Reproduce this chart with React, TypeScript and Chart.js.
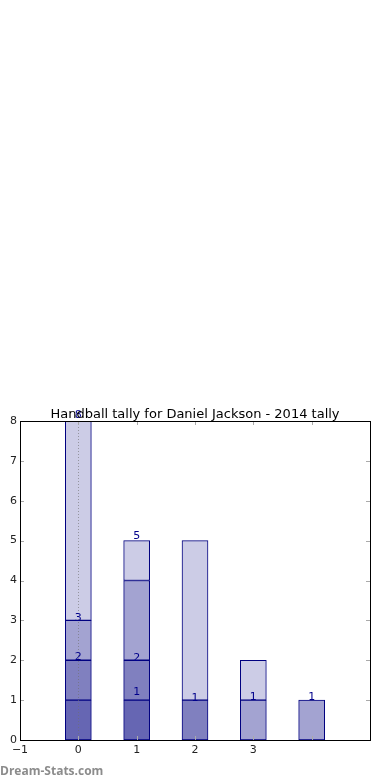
import React, { useEffect, useRef } from "react";
import { Chart, registerables } from "chart.js";

Chart.register(...registerables);

const categories = [0, 1, 2, 3, 4];
const seriesA = [1, 1, 0, 0, 0];
const seriesB = [1, 1, 1, 0, 0];
const seriesC = [1, 2, 0, 1, 1];
const seriesD = [5, 1, 4, 1, 0];
const seriesColors = ["#6666b3", "#8080bf", "#a3a3d1", "#ccccE6"];

const xTickLabels = ["\u22121", "0", "1", "2", "3"];
const xTickValues = [-1, 0, 1, 2, 3];

const labelX = [0, 0, 0, 1, 1, 1, 2, 3, 4];
const labelY = [8.08, 2.98, 2.0, 5.05, 1.98, 1.12, 0.98, 1.0, 1.0];
const labelText = ["8", "3", "2", "5", "2", "1", "1", "1", "1"];

const TITLE = "Handball tally for Daniel Jackson - 2014 tally";
const WATERMARK = "Dream-Stats.com";
const FONT = "'DejaVu Sans', sans-serif";

export default function App() {
  const ref = useRef<HTMLCanvasElement>(null);
  useEffect(() => {
    document.body.style.margin = "0";
    const canvas = ref.current!;
    const all = [seriesA, seriesB, seriesC, seriesD];
    const datasets = all.map((s, i) => ({
      label: "s" + i,
      data: categories.map((c, j) => ({ x: c, y: s[j] === 0 ? null : s[j] })),
      backgroundColor: seriesColors[i],
      borderColor: "#000080",
      borderWidth: 1,
      borderSkipped: false as const,
      barThickness: 26,
    }));

    const overlay = {
      id: "overlay",
      afterDatasetsDraw(chart: any) {
        const ctx = chart.ctx;
        const a = chart.chartArea;
        const xs = chart.scales.x;
        const ys = chart.scales.y;
        ctx.save();
        // dotted line at x=0
        const x0 = Math.round(xs.getPixelForValue(0)) + 0.5;
        ctx.strokeStyle = "rgba(110,110,110,0.6)";
        ctx.lineWidth = 1;
        ctx.setLineDash([1, 2]);
        ctx.beginPath();
        ctx.moveTo(x0, a.top);
        ctx.lineTo(x0, a.bottom);
        ctx.stroke();
        ctx.setLineDash([]);
        // inner ticks
        ctx.strokeStyle = "#aaaaaa";
        ctx.lineWidth = 1;
        for (const t of xs.ticks) {
          const px = Math.round(xs.getPixelForValue(t.value)) + 0.5;
          ctx.beginPath();
          ctx.moveTo(px, a.bottom);
          ctx.lineTo(px, a.bottom - 4);
          ctx.moveTo(px, a.top);
          ctx.lineTo(px, a.top + 4);
          ctx.stroke();
        }
        for (const t of ys.ticks) {
          const py = Math.round(ys.getPixelForValue(t.value)) + 0.5;
          ctx.beginPath();
          ctx.moveTo(a.left, py);
          ctx.lineTo(a.left + 4, py);
          ctx.moveTo(a.right, py);
          ctx.lineTo(a.right - 4, py);
          ctx.stroke();
        }
        // frame
        ctx.strokeStyle = "#000000";
        ctx.strokeRect(
          Math.round(a.left) + 0.5,
          Math.round(a.top) + 0.5,
          Math.round(a.right - a.left),
          Math.round(a.bottom - a.top)
        );
        // value labels
        ctx.fillStyle = "#00008b";
        ctx.font = "11px " + FONT;
        ctx.textAlign = "center";
        ctx.textBaseline = "alphabetic";
        labelText.forEach((t, i) => {
          ctx.fillText(t, xs.getPixelForValue(labelX[i]), ys.getPixelForValue(labelY[i]));
        });
        // title
        ctx.fillStyle = "#000000";
        ctx.font = "13px " + FONT;
        ctx.fillText(TITLE, (a.left + a.right) / 2, a.top - 3);
        // watermark
        ctx.fillStyle = "#8c8c8c";
        ctx.font = "bold 12px 'Open Sans', sans-serif";
        ctx.textAlign = "left";
        ctx.fillText(WATERMARK, 0, 775);
        ctx.restore();
      },
    };

    const chart = new Chart(canvas, {
      type: "bar",
      data: { datasets },
      options: {
        animation: false,
        responsive: false,
        layout: { padding: { top: 421, right: 20, left: 0, bottom: 0 } },
        plugins: { legend: { display: false }, tooltip: { enabled: false }, title: { display: false } },
        scales: {
          x: {
            type: "linear",
            stacked: true,
            min: -1,
            max: 5,
            offset: false,
            grid: { display: false, drawTicks: false },
            border: { display: false },
            afterFit: (s: any) => { s.height = 40; },
            ticks: {
              stepSize: 1,
              padding: 4,
              color: "#222222",
              font: { family: FONT, size: 11 },
              maxRotation: 0,
              autoSkip: false,
              callback: (v: any) => {
                const i = xTickValues.indexOf(Number(v));
                return i >= 0 ? xTickLabels[i] : "";
              },
            },
          },
          y: {
            stacked: true,
            min: 0,
            max: 8,
            grid: { display: false, drawTicks: false },
            border: { display: false },
            afterFit: (s: any) => { s.width = 20; },
            ticks: {
              stepSize: 1,
              padding: 3,
              color: "#222222",
              font: { family: FONT, size: 11 },
            },
          },
        },
      },
      plugins: [overlay],
    });
    return () => chart.destroy();
  }, []);
  return <canvas ref={ref} width={390} height={780} style={{ display: "block" }} />;
}
